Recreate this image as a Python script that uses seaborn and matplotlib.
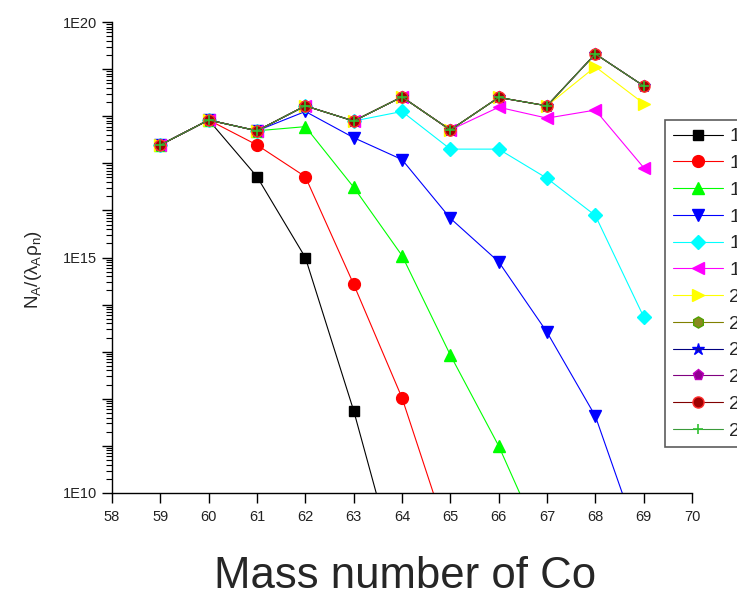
import matplotlib
matplotlib.use("Agg")
import matplotlib.pyplot as plt
import matplotlib.ticker as mticker
import seaborn as sns
import pandas as pd
import math

mass = [59, 60, 61, 62, 63, 64, 65, 66, 67, 68, 69]

s1 = [2.45e17, 8.3e17, 5.2e16, 1.0e15, 5.6e11, 1.0e8]
s2 = [2.45e17, 8.3e17, 2.45e17, 5.2e16, 2.7e14, 1.05e12, 8.0e8]
s3 = [2.45e17, 8.3e17, 4.9e17, 6.0e17, 3.1e16, 1.1e15, 8.5e12, 1.0e11, 5.0e8]
s4 = [2.45e17, 8.3e17, 4.9e17, 1.26e18, 3.5e17, 1.2e17, 6.8e15, 8.1e14, 2.6e13, 4.3e11, 5.0e8]
s5 = [2.45e17, 8.3e17, 4.9e17, 1.66e18, 7.9e17, 1.26e18, 2.0e17, 2.0e17, 4.8e16, 7.8e15, 5.5e13]
s6 = [2.45e17, 8.3e17, 4.9e17, 1.66e18, 7.9e17, 2.57e18, 5.1e17, 1.55e18, 9.1e17, 1.35e18, 8.1e16]
s7 = [2.45e17, 8.3e17, 4.9e17, 1.66e18, 7.9e17, 2.57e18, 5.1e17, 2.5e18, 1.66e18, 1.12e19, 1.86e18]
env = [2.45e17, 8.3e17, 4.9e17, 1.66e18, 7.9e17, 2.57e18, 5.1e17, 2.5e18, 1.66e18, 2.1e19, 4.4e18]

series = [s1, s2, s3, s4, s5, s6, s7, env, env, env, env, env]
labels = ["10", "11", "12", "13", "14", "15", "20", "21", "22", "23", "24", "25"]
line_colors = ["black", "red", "#00ff00", "#0000ff", "#00ffff", "#ff00ff", "#ffff00",
               "#808000", "#000080", "#800080", "#800000", "#3a9a3a"]
face_colors = ["black", "red", "#00ff00", "#0000ff", "#00ffff", "#ff00ff", "#ffff00",
               "#8a8a20", "#1010a0", "#900090", "#a00000", "#3a9a3a"]
edge_colors = ["black", "red", "#00ff00", "#0000ff", "#00ffff", "#ff00ff", "#ffff00",
               "#50a000", "#0000ff", "#c000c0", "#ff3030", "#30c030"]
markers = ["s", "o", "^", "v", "D", "<", ">", "h", "*", "p", "o", "+"]
msizes = [7.5, 8.5, 9, 9, 7.5, 9, 9, 8, 9, 8, 8, 7.5]

sns.set_style("white")
plt.rcParams["font.family"] = ["Liberation Sans", "DejaVu Sans"]
plt.rcParams["mathtext.fontset"] = "custom"
plt.rcParams["mathtext.rm"] = "Liberation Sans"
plt.rcParams["mathtext.it"] = "Liberation Sans:italic"

fig = plt.figure(figsize=(7.37, 5.98), dpi=100)
ax = fig.add_axes([112 / 737, 1 - 493 / 598, 580 / 737, 471 / 598])

for i, ys in enumerate(series):
    df = pd.DataFrame({"mass": mass[:len(ys)], "val": ys})
    sns.lineplot(data=df, x="mass", y="val", ax=ax, color=line_colors[i],
                 marker=markers[i], markersize=msizes[i],
                 markerfacecolor=face_colors[i], markeredgecolor=edge_colors[i],
                 markeredgewidth=1.0 if markers[i] != "+" else 1.2,
                 linewidth=0.8, label=labels[i], sort=False, estimator=None)

ax.set_yscale("log")
ax.set_xlim(58, 70)
ax.set_ylim(1e10, 1e20)
ax.set_xticks(range(58, 71))
ax.xaxis.set_major_formatter(mticker.FormatStrFormatter("%d"))

ax.yaxis.set_major_locator(mticker.LogLocator(base=10, numticks=20))
ax.yaxis.set_minor_locator(mticker.LogLocator(base=10, subs=range(2, 10), numticks=100))


def yfmt(v, pos):
    e = int(round(math.log10(v)))
    return f"1E{e}" if e % 5 == 0 else ""


ax.yaxis.set_major_formatter(mticker.FuncFormatter(yfmt))
ax.yaxis.set_minor_formatter(mticker.NullFormatter())

for sp in ["top", "right"]:
    ax.spines[sp].set_visible(False)
for sp in ["left", "bottom"]:
    ax.spines[sp].set_color("black")
    ax.spines[sp].set_linewidth(1.0)

ax.tick_params(axis="both", which="major", direction="out", length=7, width=1,
               color="black", labelsize=10.5, labelcolor="#222222", left=True, bottom=True)
ax.tick_params(axis="x", which="major", pad=5)
ax.tick_params(axis="y", which="minor", direction="out", length=4.5, width=0.8,
               color="black", left=True)
ax.set_xlabel("")
ax.set_ylabel("")

fig.text(33 / 737, 1 - 270 / 598, r"$\mathregular{N_A/(\lambda_A\rho_n)}$",
         rotation=90, ha="center", va="center", fontsize=13.5)
fig.text(405 / 737, 1 - 576 / 598, "Mass number of Co", ha="center", va="center",
         fontsize=31.5)

leg = ax.legend(loc="upper left", bbox_to_anchor=((665 - 112) / 580, (493 - 120) / 471),
                borderaxespad=0, frameon=True, fancybox=False, edgecolor="#333333",
                fontsize=14, handlelength=2.6, handletextpad=0.3, labelspacing=0.47,
                borderpad=0.4)
leg.get_frame().set_linewidth(1.2)

fig.savefig("out.png", dpi=100)
